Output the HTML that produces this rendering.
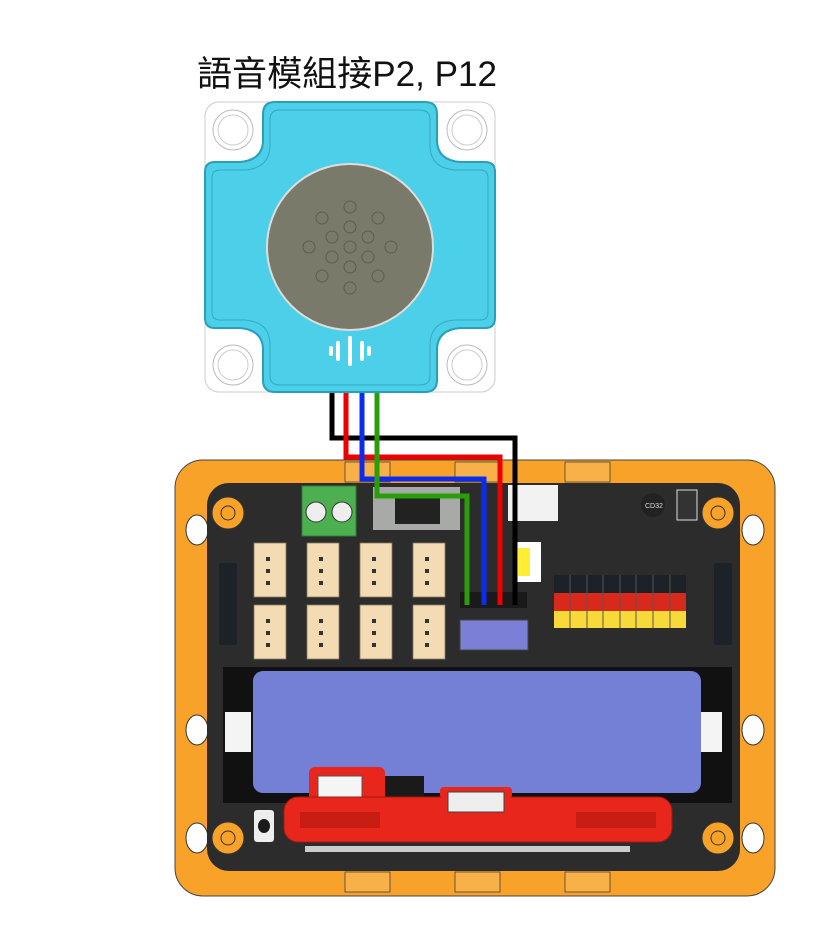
<!DOCTYPE html>
<html><head><meta charset="utf-8"><style>
html,body{margin:0;padding:0;background:#fff;width:834px;height:933px;overflow:hidden}
svg{display:block}
</style></head><body>
<svg width="834" height="933" viewBox="0 0 834 933" xmlns="http://www.w3.org/2000/svg">
<text x="197" y="86" font-family="Liberation Sans, Noto Sans CJK TC, sans-serif" font-size="35" textLength="300" lengthAdjust="spacingAndGlyphs" fill="#111">語音模組接P2, P12</text>
<!-- module -->
<rect x="205" y="102" width="290" height="290" rx="14" fill="#fff" stroke="#ccc"/>
<circle cx="233" cy="130" r="20" fill="#fff" stroke="#bbb"/><circle cx="233" cy="130" r="15" fill="none" stroke="#ccc"/>
<circle cx="467" cy="130" r="20" fill="#fff" stroke="#bbb"/><circle cx="467" cy="130" r="15" fill="none" stroke="#ccc"/>
<circle cx="233" cy="365" r="20" fill="#fff" stroke="#bbb"/><circle cx="233" cy="365" r="15" fill="none" stroke="#ccc"/>
<circle cx="467" cy="365" r="20" fill="#fff" stroke="#bbb"/><circle cx="467" cy="365" r="15" fill="none" stroke="#ccc"/>
<path d="M275,102 H425 Q437,102 437,114 V140 Q437,160 460,162 H485 Q495,162 495,172 V318 Q495,328 485,328 H460 Q437,330 437,350 V380 Q437,392 425,392 H275 Q263,392 263,380 V350 Q263,330 240,328 H215 Q205,328 205,318 V172 Q205,162 215,162 H240 Q263,160 263,140 V114 Q263,102 275,102 Z" fill="#4ccfe8" stroke="#2a9fb8" stroke-width="2"/>
<path d="M280,110 H420 Q430,110 430,120 V145 Q430,168 455,170 H480 Q488,170 488,178 V312 Q488,320 480,320 H455 Q430,322 430,345 V376 Q430,385 420,385 H280 Q270,385 270,376 V345 Q270,322 245,320 H220 Q212,320 212,312 V178 Q212,170 220,170 H245 Q270,168 270,145 V120 Q270,110 280,110 Z" fill="none" stroke="#35a9c2" stroke-width="1"/>
<circle cx="350" cy="247" r="83" fill="#7a7a6a" stroke="#ddd" stroke-width="2"/>
<g fill="none" stroke="#5d5d50" stroke-width="1">
<circle cx="350" cy="207" r="6"/><circle cx="350" cy="227" r="6"/><circle cx="350" cy="247" r="6"/><circle cx="350" cy="267" r="6"/><circle cx="350" cy="288" r="6"/>
<circle cx="332" cy="237" r="6"/><circle cx="368" cy="237" r="6"/><circle cx="332" cy="257" r="6"/><circle cx="368" cy="257" r="6"/>
<circle cx="322" cy="218" r="6"/><circle cx="378" cy="218" r="6"/><circle cx="322" cy="276" r="6"/><circle cx="378" cy="276" r="6"/>
<circle cx="309" cy="247" r="6"/><circle cx="391" cy="247" r="6"/></g>
<g fill="#fff"><rect x="329" y="346" width="4" height="10" rx="2"/><rect x="336" y="341" width="4" height="20" rx="2"/><rect x="348" y="336" width="4" height="30" rx="2"/><rect x="360" y="341" width="4" height="20" rx="2"/><rect x="367" y="346" width="4" height="10" rx="2"/></g>
<!-- board frame -->
<rect x="175" y="460" width="600" height="436" rx="28" fill="#f9a22a" stroke="#444"/>
<g fill="#f7b148" stroke="#333" stroke-width="0.7">
<rect x="345" y="462" width="45" height="20"/><rect x="455" y="462" width="45" height="20"/><rect x="565" y="462" width="45" height="20"/>
<rect x="345" y="872" width="45" height="20"/><rect x="455" y="872" width="45" height="20"/><rect x="565" y="872" width="45" height="20"/></g>
<g fill="#fff" stroke="#333"><ellipse cx="197" cy="530" rx="11" ry="15"/><ellipse cx="197" cy="730" rx="11" ry="15"/><ellipse cx="197" cy="838" rx="11" ry="15"/><ellipse cx="753" cy="530" rx="11" ry="15"/><ellipse cx="753" cy="730" rx="11" ry="15"/><ellipse cx="753" cy="838" rx="11" ry="15"/></g>
<!-- pcb -->
<rect x="207" y="483" width="533" height="388" rx="22" fill="#2c2c2c"/>
<circle cx="228" cy="513" r="16" fill="#f9a22a" stroke="#333"/><circle cx="228" cy="513" r="7" fill="none" stroke="#333"/>
<circle cx="718" cy="513" r="16" fill="#f9a22a" stroke="#333"/><circle cx="718" cy="513" r="7" fill="none" stroke="#333"/>
<circle cx="228" cy="838" r="16" fill="#f9a22a" stroke="#333"/><circle cx="228" cy="838" r="7" fill="none" stroke="#333"/>
<circle cx="718" cy="838" r="16" fill="#f9a22a" stroke="#333"/><circle cx="718" cy="838" r="7" fill="none" stroke="#333"/>
<!-- terminal -->
<rect x="302" y="486" width="54" height="50" fill="#4caf50" stroke="#2e7d32"/>
<circle cx="316" cy="512" r="10" fill="#eee" stroke="#333"/><circle cx="342" cy="512" r="10" fill="#eee" stroke="#333"/>
<rect x="373" y="487" width="87" height="43" fill="#a8aaa8"/><rect x="395" y="494" width="45" height="30" fill="#222"/>
<rect x="508" y="485" width="50" height="36" fill="#f2f2f2"/>
<rect x="513" y="542" width="28" height="40" fill="#fff"/><rect x="518" y="548" width="12" height="28" fill="#ffee33"/>
<circle cx="653" cy="505" r="12" fill="#222"/><text x="645" y="508" font-family="Liberation Sans,sans-serif" font-size="7" fill="#ddd">CD32</text>
<rect x="677" y="490" width="20" height="30" fill="#333" stroke="#ddd"/>
<!-- JST -->
<g fill="#f3dcb3" stroke="#8a7a60" stroke-width="0.8">
<rect x="254" y="543" width="32" height="54"/><rect x="307" y="543" width="32" height="54"/><rect x="360" y="543" width="32" height="54"/><rect x="413" y="543" width="32" height="54"/>
<rect x="254" y="605" width="32" height="54"/><rect x="307" y="605" width="32" height="54"/><rect x="360" y="605" width="32" height="54"/><rect x="413" y="605" width="32" height="54"/></g>
<g fill="#333"><rect x="266" y="557" width="4" height="4"/><rect x="266" y="569" width="4" height="4"/><rect x="266" y="581" width="4" height="4"/>
<rect x="319" y="557" width="4" height="4"/><rect x="319" y="569" width="4" height="4"/><rect x="319" y="581" width="4" height="4"/>
<rect x="372" y="557" width="4" height="4"/><rect x="372" y="569" width="4" height="4"/><rect x="372" y="581" width="4" height="4"/>
<rect x="425" y="557" width="4" height="4"/><rect x="425" y="569" width="4" height="4"/><rect x="425" y="581" width="4" height="4"/>
<rect x="266" y="619" width="4" height="4"/><rect x="266" y="631" width="4" height="4"/><rect x="266" y="643" width="4" height="4"/>
<rect x="319" y="619" width="4" height="4"/><rect x="319" y="631" width="4" height="4"/><rect x="319" y="643" width="4" height="4"/>
<rect x="372" y="619" width="4" height="4"/><rect x="372" y="631" width="4" height="4"/><rect x="372" y="643" width="4" height="4"/>
<rect x="425" y="619" width="4" height="4"/><rect x="425" y="631" width="4" height="4"/><rect x="425" y="643" width="4" height="4"/></g>
<!-- headers -->
<rect x="460" y="592" width="67" height="16" fill="#1a1a1a"/>
<rect x="460" y="620" width="68" height="30" fill="#7b7fd6" stroke="#444"/>
<rect x="554" y="575" width="132" height="18" fill="#1c2228"/><rect x="554" y="593" width="132" height="18" fill="#d82a1c"/><rect x="554" y="611" width="132" height="17" fill="#f7da3a"/>
<g stroke="#555" stroke-width="1"><line x1="570" y1="575" x2="570" y2="628"/><line x1="587" y1="575" x2="587" y2="628"/><line x1="603" y1="575" x2="603" y2="628"/><line x1="620" y1="575" x2="620" y2="628"/><line x1="636" y1="575" x2="636" y2="628"/><line x1="653" y1="575" x2="653" y2="628"/><line x1="670" y1="575" x2="670" y2="628"/></g>
<rect x="219" y="563" width="18" height="82" fill="#1c2228"/><rect x="714" y="563" width="18" height="82" fill="#1c2228"/>
<!-- battery -->
<rect x="223" y="667" width="509" height="136" fill="#111"/>
<rect x="225" y="712" width="26" height="40" fill="#f4f4f4"/><rect x="696" y="712" width="26" height="40" fill="#f4f4f4"/>
<rect x="253" y="671" width="448" height="122" rx="10" fill="#7480d6"/>
<rect x="384" y="776" width="40" height="22" fill="#1a1a1a"/>
<rect x="309" y="767" width="76" height="36" rx="6" fill="#e8261b"/>
<rect x="318" y="776" width="44" height="34" fill="#f5f5f5" stroke="#555"/>
<rect x="284" y="797" width="388" height="45" rx="14" fill="#e8261b" stroke="#a01a10"/>
<rect x="440" y="787" width="72" height="12" rx="4" fill="#e8261b"/>
<rect x="448" y="792" width="56" height="20" fill="#eee" stroke="#444"/>
<rect x="300" y="812" width="80" height="16" fill="#c81d12"/><rect x="576" y="812" width="80" height="16" fill="#c81d12"/>
<rect x="254" y="810" width="20" height="32" rx="3" fill="#eee"/><ellipse cx="264" cy="826" rx="6" ry="7" fill="#1a1a1a"/>
<rect x="305" y="846" width="175" height="6" fill="#ccc"/><rect x="480" y="846" width="150" height="6" fill="#ccc"/>
<!-- wires -->
<g fill="none" stroke-width="5" stroke-linejoin="miter">
<path d="M332,393 V438 H515 V605" stroke="#000"/>
<path d="M346,393 V457 H500 V605" stroke="#e00"/>
<path d="M362,393 V479 H484 V605" stroke="#0a2cf0"/>
<path d="M377,393 V496 H467 V605" stroke="#2a9e08"/>
</g>
</svg>
</body></html>
